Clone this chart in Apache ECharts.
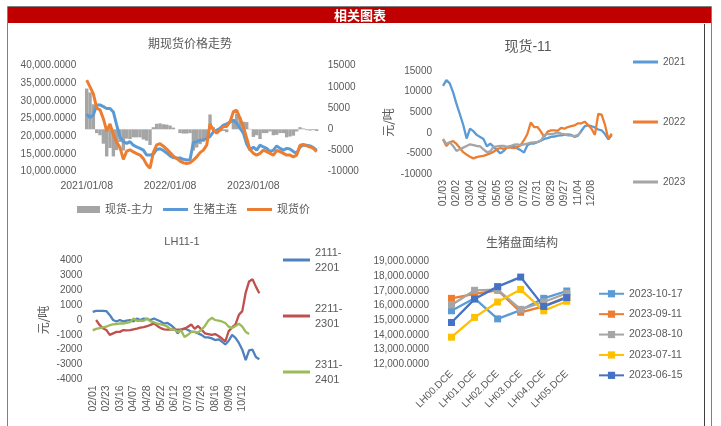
<!DOCTYPE html>
<html><head><meta charset="utf-8">
<script src="https://cdn.jsdelivr.net/npm/echarts@6/dist/echarts.min.js"></script>
<style>html,body{margin:0;padding:0;background:#fff}#c{width:721px;height:426px}</style>
</head><body><div id="c"></div>
<script>
// ---------- Chart 1: 期现货价格走势 ----------
const c1Ticks = ['2021/01/08', '2022/01/08', '2023/01/08'];
const c1Basis = [9600,8700,5900,-900,-1400,-3400,-6400,-4400,-6400,-4900,
  -3000,-5000,-2200,-2300,-1900,-1900,-1900,-2400,-2700,-3700,
  500,1300,1400,1200,1100,900,400,0,-900,-1000,
  -1000,-900,-5000,-4300,-3500,-2900,-1900,3500,500,-800,
  -500,-400,-700,0,2400,3700,2800,1800,1700,100,
  -1800,-1400,-2300,-900,-900,-500,-1400,-1300,-900,-900,
  -1900,-1700,-1500,-500,500,200,-200,-300,-200,-400];
const c1Futures = [26300,25300,26100,28900,28900,28400,27900,27900,26900,23200,
  19800,18500,18000,18500,17500,17000,16600,16100,14700,14700,
  15000,16300,16500,16000,15300,14500,14000,13800,13900,13500,
  13300,13400,18300,18500,18900,19000,19400,20000,21300,21700,
  22300,23200,23500,24100,24600,23700,22300,20900,17800,16100,
  17000,16100,17500,17000,16600,15700,16100,17300,16600,16100,
  16600,16400,15700,15200,17000,17500,17500,17300,16800,16100];
const c1Spot = [35900,34000,32000,28000,27500,25000,21500,23500,20500,18300,
  16800,13500,15800,16200,15600,15100,14700,13700,12000,11000,
  15500,17600,17900,17200,16400,15400,14400,13800,13000,12500,
  12300,12500,13300,14200,15400,16100,17500,23500,21800,20900,
  21800,22800,22800,24100,27000,27400,25100,22700,19500,16200,
  15200,14700,15200,16100,15700,15200,14700,16000,15700,15200,
  14700,14700,14200,14700,17500,17700,17300,17000,16600,15700];

// ---------- Chart 2: 现货-11 ----------
const c2Ticks = ['01/03','02/02','03/04','04/02','05/05','06/03','07/02','07/31','08/29','09/27','11/04','12/08'];
const c2Y2021 = [11400,12800,12000,9800,7000,4500,1900,-1400,1000,400,
  -500,-1000,-1500,-3300,-2600,-3400,-4200,-5000,-4400,-3500,
  -3400,-3200,-3800,-4200,-4800,-3000,-2600,-2600,-2300,-1900,
  -1500,-1300,-1000,-900,-700,-600,-500,-400,-500,-1000,
  -700,500,1600,1800,1600,1300,800,600,-300,-1600,-550];
const c2Y2022 = [-1600,-3200,-2300,-2000,-2700,-3700,-4700,-5300,-5800,-6200,
  -5900,-5700,-5600,-5300,-5000,-4600,-4000,-3700,-3900,-3600,
  -3600,-3700,-3500,-3000,-1800,-300,2500,1400,1400,300,
  -1000,300,600,600,500,1200,1000,1400,1600,1800,
  2300,2300,2700,1900,1000,-500,4600,4400,1900,-1500,-200];
const c2Y2023 = [-1500,-2700,-2300,-3200,-4400,-4000,-3600,-3200,-2800,-3000,
  -3200,-3300,-4000,-4700,-4500,-3400,-3300,-3200,-3200,-3400,
  -3200,-2900,-2800,-3000,-2800,-2600,-2400,-2300,-2200,-1900,
  -600,-300,-300,-200,100,-200,-400,-600,-700,-800,-500,200];

// ---------- Chart 3: LH11-1 ----------
const c3Ticks = ['02/01','02/23','03/16','04/07','04/28','05/22','06/12','07/03','07/24','08/16','09/09','10/12'];
const c3S2111 = [550,620,620,620,600,340,0,-100,0,-100,
  -50,0,-100,100,0,100,60,0,100,0,
  -100,-250,-200,-350,-550,-900,-650,-560,-670,-800,
  -800,-900,-1000,-1170,-1170,-1240,-1350,-1300,-1460,-1650,
  -1400,-1000,-1200,-1550,-2000,-2700,-2050,-2000,-2500,-2650];
const c3S2211 = [null,0,-330,-550,-670,-1000,-900,-800,-800,-680,
  -700,-680,-630,-580,-520,-480,-420,-330,-230,-400,
  -550,-630,-650,-650,-650,-650,-650,-600,-450,-300,
  -600,-400,-650,-900,-950,-1000,-950,-1080,-1250,-1450,
  -750,-500,-300,350,600,1850,2600,2750,2250,1800];
const c3S2311 = [-700,-600,-550,-500,-450,-350,-300,-270,-220,-250,
  -200,-150,100,-50,-50,-50,120,-100,-150,-250,
  -300,-350,-450,-650,-650,-800,-700,-1150,-1000,-800,
  -800,-850,-650,-400,-50,150,0,-50,-100,-200,
  -450,-550,-400,-250,-450,-800,-950];

// ---------- Chart 4: 生猪盘面结构 ----------
const c4Cats = ['LH00.DCE','LH01.DCE','LH02.DCE','LH03.DCE','LH04.DCE','LH05.DCE'];
const c4Names = ['2023-10-17','2023-09-11','2023-08-10','2023-07-11','2023-06-15'];
const c4D1017 = [15650,16500,15100,15700,16500,17000];
const c4D0911 = [16500,16800,17050,15550,15950,16600];
const c4D0810 = [16050,17050,17100,15750,16250,16850];
const c4D0711 = [13850,15200,16250,17100,15650,16300];
const c4D0615 = [14850,16450,17300,17950,15950,16550];

// ---------- build ----------
const FONT = '"Liberation Sans", Arial, "Noto Sans CJK SC", sans-serif';
const GRAY = '#595959';
const idx = n => Array.from({length: n}, (_, i) => String(i));
const fmt4 = v => String(v).replace(/\B(?=(\d{3})+(?!\d))/g, ',') + '.0000';
const plain = v => String(v);
const noLine = {show: false};
const lbl = (extra) => Object.assign({color: GRAY, fontSize: 10, fontFamily: FONT, formatter: plain, hideOverlap: false}, extra);

const chart = echarts.init(document.getElementById('c'), null, {renderer: 'canvas'});

function legendItem(name, left, top, opt) {
  return Object.assign({
    data: [name], left: left, top: top, orient: 'vertical', padding: 0, itemGap: 0,
    selectedMode: false,
    textStyle: {color: GRAY, fontSize: 10, fontFamily: FONT}
  }, opt || {});
}

const lineS = (name, x, y, data, color, w) => ({
  name, type: 'line', xAxisIndex: x, yAxisIndex: y, data, symbol: 'none',
  lineStyle: {color, width: w}, itemStyle: {color}, connectNulls: false, animation: false
});

const c4Colors = ['#5b9bd5', '#ed7d31', '#a5a5a5', '#ffc000', '#4472c4'];
const c4Data = [c4D1017, c4D0911, c4D0810, c4D0711, c4D0615];

const legends = [
  legendItem('现货-主力', 77, 204, {icon: 'rect', itemWidth: 23, itemHeight: 7, textStyle: {color: GRAY, fontSize: 11, fontFamily: FONT}}),
  legendItem('生猪主连', 163, 204, {icon: 'rect', itemWidth: 25, itemHeight: 3, textStyle: {color: GRAY, fontSize: 11, fontFamily: FONT}}),
  legendItem('现货价', 247, 204, {icon: 'rect', itemWidth: 25, itemHeight: 3, textStyle: {color: GRAY, fontSize: 11, fontFamily: FONT}}),
  legendItem('2021', 633, 57, {icon: 'rect', itemWidth: 25, itemHeight: 3}),
  legendItem('2022', 633, 117, {icon: 'rect', itemWidth: 25, itemHeight: 3}),
  legendItem('2023', 633, 177, {icon: 'rect', itemWidth: 25, itemHeight: 3}),
];
[['2111-2201', 260], ['2211-2301', 316], ['2311-2401', 372]].forEach(([n, yc]) => {
  legends.push(legendItem(n, 283, yc - 22.5, {
    icon: 'rect', itemWidth: 27, itemHeight: 3,
    formatter: s => s.slice(0, 5) + '\n' + s.slice(5),
    textStyle: {color: GRAY, fontSize: 11, fontFamily: FONT, lineHeight: 15, padding: [15, 0, 0, 0]}
  }));
});
c4Names.forEach((n, k) => {
  legends.push(legendItem(n, 598, 295 + k * 20.4 - 6.5, {itemWidth: 25, itemHeight: 9,
    textStyle: {color: GRAY, fontSize: 10.5, fontFamily: FONT}}));
});

const option = {
  animation: false,
  textStyle: {fontFamily: FONT},
  graphic: [
    {type: 'rect', shape: {x: 7, y: 7, width: 705, height: 16}, style: {fill: '#c00000'}, silent: true},
    {type: 'rect', shape: {x: 7.5, y: 6.5, width: 704, height: 430}, style: {fill: null, stroke: '#7f7f7f', lineWidth: 1}, silent: true},
    {type: 'line', shape: {x1: 704.5, y1: 24, x2: 704.5, y2: 426}, style: {stroke: '#404040', lineWidth: 1}, silent: true},
    {type: 'text', x: 360, y: 15.5, style: {text: '相关图表', fill: '#fff', font: 'bold 13px "Noto Sans CJK SC", sans-serif', align: 'center', verticalAlign: 'middle'}},
    {type: 'text', x: 190, y: 43, style: {text: '期现货价格走势', fill: GRAY, font: '12px "Noto Sans CJK SC", sans-serif', align: 'center', verticalAlign: 'middle'}},
    {type: 'text', x: 528, y: 47, style: {text: '现货-11', fill: GRAY, font: '14px "Liberation Sans", "Noto Sans CJK SC", sans-serif', align: 'center', verticalAlign: 'middle'}},
    {type: 'text', x: 182, y: 242, style: {text: 'LH11-1', fill: GRAY, font: '11px "Liberation Sans", sans-serif', align: 'center', verticalAlign: 'middle'}},
    {type: 'text', x: 522, y: 242, style: {text: '生猪盘面结构', fill: GRAY, font: '12px "Noto Sans CJK SC", sans-serif', align: 'center', verticalAlign: 'middle'}}
  ],
  legend: legends,
  grid: [
    {left: 86.7, top: 65.7, width: 230, height: 106, containLabel: false, outerBoundsMode: 'none'},
    {left: 443, top: 71, width: 168.75, height: 103, containLabel: false, outerBoundsMode: 'none'},
    {left: 92.7, top: 260.7, width: 166.6, height: 118.6, containLabel: false, outerBoundsMode: 'none'},
    {left: 440, top: 261.7, width: 138.3, height: 102.6, containLabel: false, outerBoundsMode: 'none'}
  ],
  xAxis: [
    {gridIndex: 0, type: 'category', data: idx(c1Spot.length), boundaryGap: false,
      axisLine: noLine, axisTick: noLine, splitLine: noLine,
      axisLabel: lbl({interval: i => i % 25 === 0, fontSize: 10.5, margin: 9,
        formatter: (v, i) => c1Ticks[Math.round(i / 25)] || ''})},
    {gridIndex: 1, type: 'category', data: idx(c2Y2021.length), boundaryGap: false,
      axisLine: noLine, axisTick: noLine, splitLine: noLine,
      axisLabel: lbl({interval: i => i % 4 === 0, rotate: 90, fontSize: 10.5, margin: 6,
        formatter: (v, i) => c2Ticks[Math.round(i / 4)] || ''})},
    {gridIndex: 2, type: 'category', data: idx(c3S2111.length), boundaryGap: false,
      axisLine: noLine, axisTick: noLine, splitLine: noLine,
      axisLabel: lbl({interval: i => i % 4 === 0, rotate: 90, fontSize: 10.5, margin: 6,
        formatter: (v, i) => c3Ticks[Math.round(i / 4)] || ''})},
    {gridIndex: 3, type: 'category', data: c4Cats, boundaryGap: true,
      axisLine: noLine, axisTick: noLine, splitLine: noLine,
      axisLabel: lbl({interval: 0, rotate: 45, fontSize: 10, margin: 8})}
  ],
  yAxis: [
    {gridIndex: 0, type: 'value', min: 10000, max: 40000, interval: 5000,
      axisLine: noLine, axisTick: noLine, splitLine: noLine,
      axisLabel: lbl({margin: 10.5, formatter: fmt4})},
    {gridIndex: 0, type: 'value', position: 'right', min: -10000, max: 15000, interval: 5000,
      axisLine: noLine, axisTick: noLine, splitLine: noLine,
      axisLabel: lbl({margin: 11})},
    {gridIndex: 1, type: 'value', min: -10000, max: 15000, interval: 5000,
      axisLine: noLine, axisTick: noLine, splitLine: noLine,
      axisLabel: lbl({margin: 11}),
      name: '元/吨', nameLocation: 'middle', nameGap: 49,
      nameTextStyle: {color: GRAY, fontSize: 12, fontFamily: '"Noto Sans CJK SC", sans-serif'}},
    {gridIndex: 2, type: 'value', min: -4000, max: 4000, interval: 1000,
      axisLine: noLine, axisTick: noLine, splitLine: noLine,
      axisLabel: lbl({margin: 10.5}),
      name: '元/吨', nameLocation: 'middle', nameGap: 43,
      nameTextStyle: {color: GRAY, fontSize: 12, fontFamily: '"Noto Sans CJK SC", sans-serif'}},
    {gridIndex: 3, type: 'value', min: 12000, max: 19000, interval: 1000,
      axisLine: noLine, axisTick: noLine, splitLine: noLine,
      axisLabel: lbl({margin: 11, formatter: fmt4})}
  ],
  series: [
    {name: '现货-主力', type: 'bar', xAxisIndex: 0, yAxisIndex: 1, data: c1Basis,
      barWidth: 3.4, itemStyle: {color: '#a5a5a5'}, animation: false},
    lineS('生猪主连', 0, 0, c1Futures, '#5b9bd5', 3),
    lineS('现货价', 0, 0, c1Spot, '#ed7d31', 3),
    lineS('2021', 1, 2, c2Y2021, '#5b9bd5', 2.3),
    lineS('2022', 1, 2, c2Y2022, '#ed7d31', 2.3),
    lineS('2023', 1, 2, c2Y2023, '#a5a5a5', 2.3),
    lineS('2111-2201', 2, 3, c3S2111, '#4f81bd', 2.3),
    lineS('2211-2301', 2, 3, c3S2211, '#c0504d', 2.3),
    lineS('2311-2401', 2, 3, c3S2311, '#9bbb59', 2.3)
  ].concat(c4Names.map((n, k) => ({
    name: n, type: 'line', xAxisIndex: 3, yAxisIndex: 4, data: c4Data[k],
    symbol: 'rect', symbolSize: 7, lineStyle: {color: c4Colors[k], width: 2.3},
    itemStyle: {color: c4Colors[k]}, animation: false
  })))
};
chart.setOption(option);
</script>
</body></html>
